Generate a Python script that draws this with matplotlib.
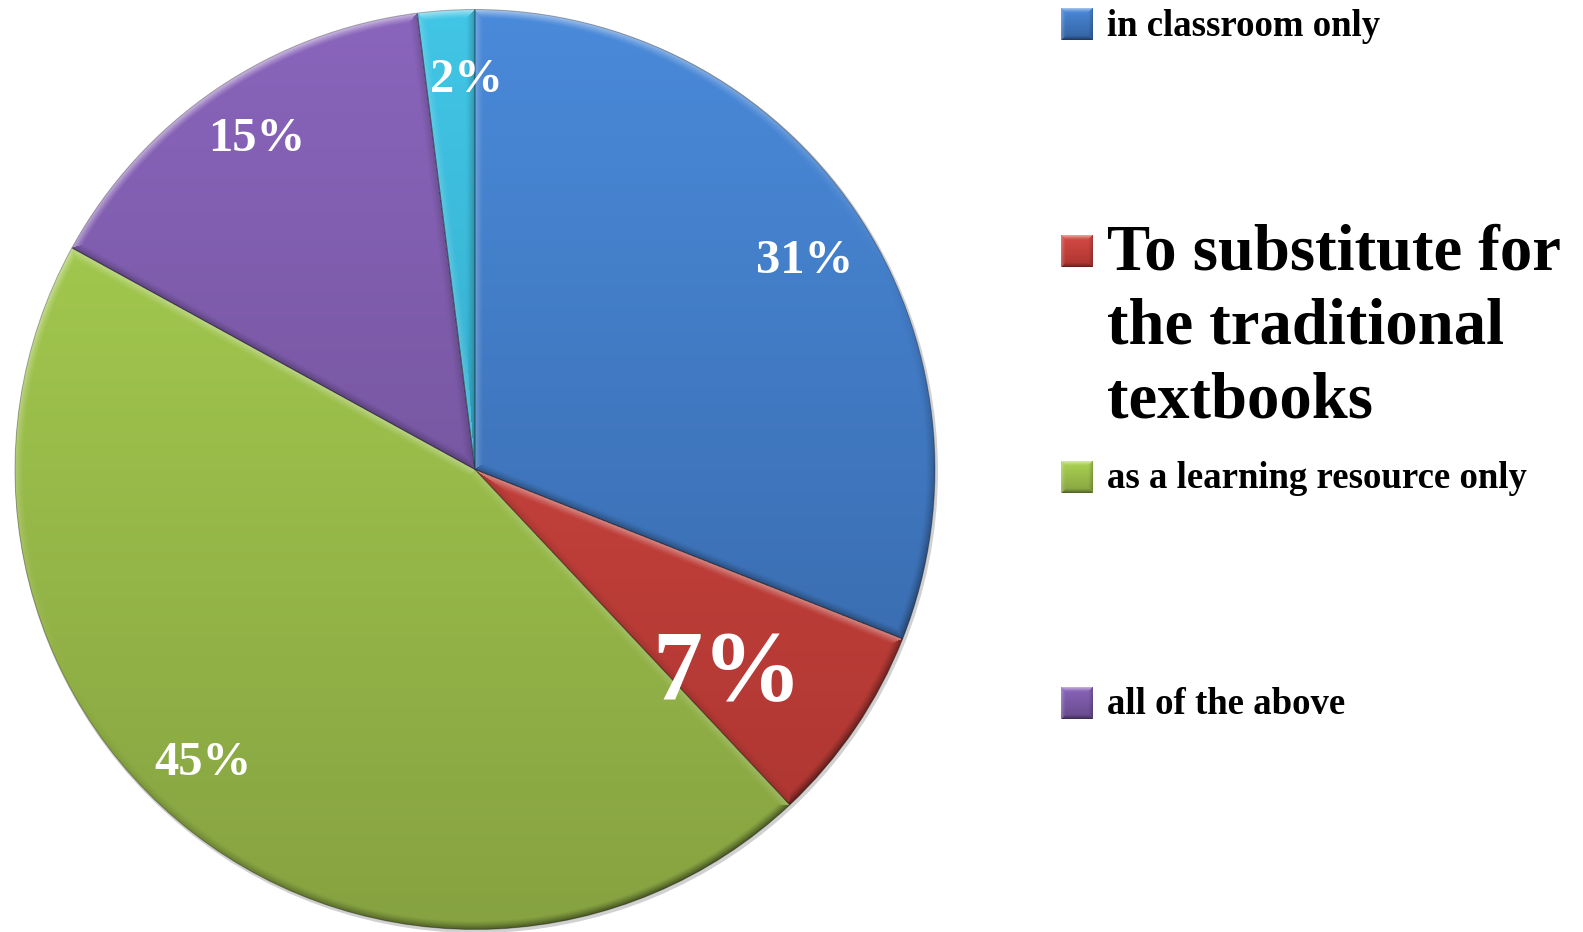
import numpy as np
import matplotlib.pyplot as plt
from matplotlib.colors import to_rgb

# survey answers, share in percent (last slice has no legend entry)
labels = ['in classroom only', 'To substitute for\nthe traditional\ntextbooks',
          'as a learning resource only', 'all of the above', '']
shares = [31, 7, 45, 15, 2]

# slice colours: light at the top of the pie, darker towards the bottom
tops = ['#4A8ADA', '#D84B45', '#ABD452', '#8A65BC', '#42C6E6']
bottoms = ['#3462A0', '#AA3430', '#86A241', '#664A8A', '#2A98B8']

W, H = 1583, 932
cx, cy, R = 475, 462.5, 460
light = np.array([-0.45, 0.89])
light = light / np.hypot(*light)

serif = 'Liberation Serif'


def shade(base, dists, dots, bw):
    # bevel: brighten edges facing the light, darken the others
    d = np.stack(dists)
    s = np.stack(dots)
    k = np.argmin(d, axis=0)
    dmin = np.take_along_axis(d, k[None], 0)[0]
    smin = np.take_along_axis(s, k[None], 0)[0]
    f = smin * np.clip(1 - dmin / bw, 0, 1) ** 1.3
    f = f[..., None]
    out = np.where(f > 0, base + (1 - base) * f * 0.6, base * (1 + f * 0.5))
    return np.clip(out, 0, 1)


fig = plt.figure(figsize=(W / 100, H / 100), dpi=100)
ax = fig.add_axes([0, 0, 1, 1])

wedges, _, pct_texts = ax.pie(
    shares, radius=R, center=(cx, cy), startangle=90, counterclock=False,
    colors=tops, autopct='%.0f%%', pctdistance=0.85,
    wedgeprops=dict(linewidth=0),
    textprops=dict(color='white', family=serif, weight='bold', fontsize=35,
                   va='center_baseline'))

# soft shadow under the pie
ax.add_patch(plt.Circle((cx + 1.5, cy - 2), R + 1.5, color='black', alpha=0.18,
                        lw=0, zorder=0.4))

ys = np.arange(cy - R, cy + R + 1)
xs = np.arange(cx - R, cx + R + 1)
X, Y = np.meshgrid(xs, ys)
dx, dy = X - cx, Y - cy
r = np.hypot(dx, dy)
th = np.degrees(np.arctan2(dy, dx))
t = ((cy + R - Y) / (2 * R))[..., None]

for i, w in enumerate(wedges):
    t1, t2 = w.theta1, w.theta2
    span = t2 - t1
    rel = (th - t1) % 360
    rest = span - rel
    d1 = np.where(rel < 90, r * np.sin(np.radians(rel)), r)
    d2 = np.where((rest >= 0) & (rest < 90), r * np.sin(np.radians(rest)), r)
    d3 = R - r
    s1 = np.full_like(r, np.cos(np.radians(t1 - 90)) * light[0] + np.sin(np.radians(t1 - 90)) * light[1])
    s2 = np.full_like(r, np.cos(np.radians(t2 + 90)) * light[0] + np.sin(np.radians(t2 + 90)) * light[1])
    s3 = np.cos(np.radians(th)) * light[0] + np.sin(np.radians(th)) * light[1]
    base = np.array(to_rgb(tops[i])) * (1 - t) + np.array(to_rgb(bottoms[i])) * t
    rgb = shade(base, [d1, d2, d3], [s1, s2, s3], 9.0)
    im = ax.imshow(rgb, extent=(cx - R - 0.5, cx + R + 0.5, cy - R - 0.5, cy + R + 0.5),
                   origin='lower', interpolation='bilinear', zorder=1)
    im.set_clip_path(w)
    w.set_facecolor('none')
    w.set_edgecolor((0, 0, 0, 0.3))
    w.set_linewidth(0.7)
    w.set_zorder(2)

# percentage labels along each slice
label_r = [0.853, 0.693, 0.862, 0.870, 0.858]
label_nudge = [-1.2, -3.6, -5.5, -1.2, -2.3]
for i, (w, txt) in enumerate(zip(wedges, pct_texts)):
    mid = np.radians((w.theta1 + w.theta2) / 2 + label_nudge[i])
    txt.set_position((cx + label_r[i] * R * np.cos(mid), cy + label_r[i] * R * np.sin(mid)))
    txt.set_zorder(3)
    if i == 1:
        txt.set_fontsize(72)

# legend on the right, one square per named answer
sq_x, sq_w = 1061, 32
text_x = 1107
entry_top, entry_step = 24.5, 226.3
u = np.arange(33) + 0.5
SX, SY = np.meshgrid(u, u)
row = 0
for i, lab in enumerate(labels):
    if not lab:
        continue
    yc = H - (entry_top + row * entry_step)
    st = (1 - SY / 33)[..., None]
    base = np.array(to_rgb(tops[i])) * (1 - st) + np.array(to_rgb(bottoms[i])) * st
    dots = [np.full_like(SX, -light[0]), np.full_like(SX, light[0]),
            np.full_like(SX, light[1]), np.full_like(SX, -light[1])]
    sq = shade(base, [SX, 33 - SX, 33 - SY, SY], dots, 5.0)
    ax.imshow(sq, extent=(sq_x, sq_x + sq_w, yc - 16, yc + 16), origin='lower',
              interpolation='bilinear', zorder=1)
    lines = lab.split('\n')
    if len(lines) > 1:
        for k, line in enumerate(lines):
            ax.text(text_x, yc - 19 - k * 74, line, fontsize=46.5, family=serif,
                    weight='bold', va='baseline', ha='left')
    else:
        ax.text(text_x, yc - 11, lab, fontsize=26.5, family=serif,
                weight='bold', va='baseline', ha='left')
    row += 1

ax.set_xlim(0, W)
ax.set_ylim(0, H)
ax.set_aspect('equal')
ax.axis('off')

fig.savefig('out.png', dpi=100)
